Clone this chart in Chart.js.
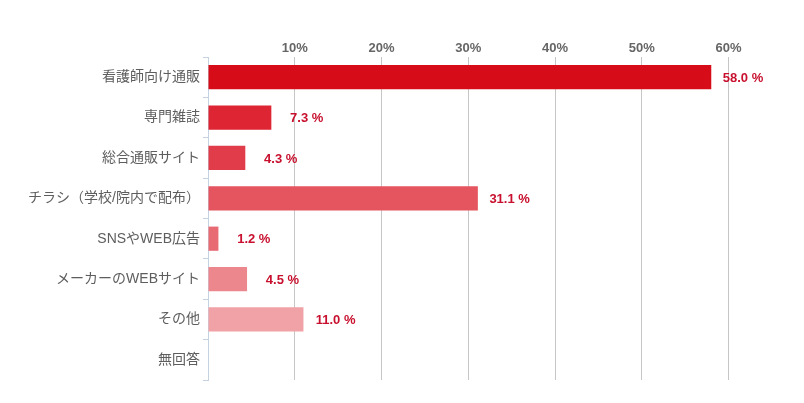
<!DOCTYPE html>
<html>
<head>
<meta charset="utf-8">
<script src="https://cdn.jsdelivr.net/npm/chart.js@4.4.0/dist/chart.umd.min.js"></script>
<style>
html,body{margin:0;padding:0;background:#fff;}
#wrap{width:804px;height:403px;position:relative;}
</style>
</head>
<body>
<div id="wrap"><canvas id="c" width="804" height="403"></canvas></div>
<script>
const categories = ["看護師向け通販","専門雑誌","総合通販サイト","チラシ（学校/院内で配布）","SNSやWEB広告","メーカーのWEBサイト","その他","無回答"];
const values = [58.0, 7.3, 4.3, 31.1, 1.2, 4.5, 11.0, 0];
const barColors = ["#d70c19","#de2533","#e03c4a","#e4555f","#e86b74","#ec878d","#f0a2a6","#f4bcbe"];
const xTicks = [0,10,20,30,40,50,60];

const FONT = '"Liberation Sans", Arial, "Noto Sans CJK JP", sans-serif';

const valueLabels = {
  id: 'valueLabels',
  afterDatasetsDraw(chart) {
    const ctx = chart.ctx;
    const meta = chart.getDatasetMeta(0);
    ctx.save();
    ctx.font = 'bold 13px ' + FONT;
    ctx.fillStyle = '#c8102e';
    ctx.textAlign = 'right';
    ctx.textBaseline = 'middle';
    meta.data.forEach((bar, i) => {
      const v = values[i];
      if (!v) return;
      ctx.fillText(v.toFixed(1) + ' %', bar.x + 52, bar.y + 1);
    });
    ctx.restore();
  }
};

new Chart(document.getElementById('c'), {
  type: 'bar',
  data: {
    labels: categories,
    datasets: [{
      data: values,
      backgroundColor: barColors,
      barPercentage: 0.6,
      categoryPercentage: 1.0
    }]
  },
  options: {
    indexAxis: 'y',
    responsive: false,
    animation: false,
    devicePixelRatio: 1,
    layout: { padding: { left: 0, right: 32, top: 0, bottom: 23 } },
    plugins: { legend: { display: false }, tooltip: { enabled: false } },
    scales: {
      x: {
        position: 'top',
        min: 0,
        max: 65,
        afterBuildTicks(scale) { scale.ticks = xTicks.map(v => ({ value: v })); },
        afterFit(scale) { scale.height = 57; },
        ticks: {
          callback: (v) => v === 0 ? '' : v + '%',
          color: '#666',
          font: { family: FONT, size: 13, weight: 'bold' },
          padding: 1
        },
        grid: {
          drawTicks: false,
          color: (c) => c.tick && c.tick.value === 0 ? 'rgba(0,0,0,0)' : '#c6c6c6',
          lineWidth: 1
        },
        border: { display: false }
      },
      y: {
        afterFit(scale) { scale.width = 208; },
        ticks: {
          color: '#5e5e5e',
          font: { family: FONT, size: 14 },
          padding: 3
        },
        grid: {
          drawOnChartArea: false,
          drawTicks: true,
          tickLength: 5,
          color: '#c5d3e0'
        },
        border: { display: true, color: '#c5d3e0' }
      }
    }
  },
  plugins: [valueLabels]
});
</script>
</body>
</html>
